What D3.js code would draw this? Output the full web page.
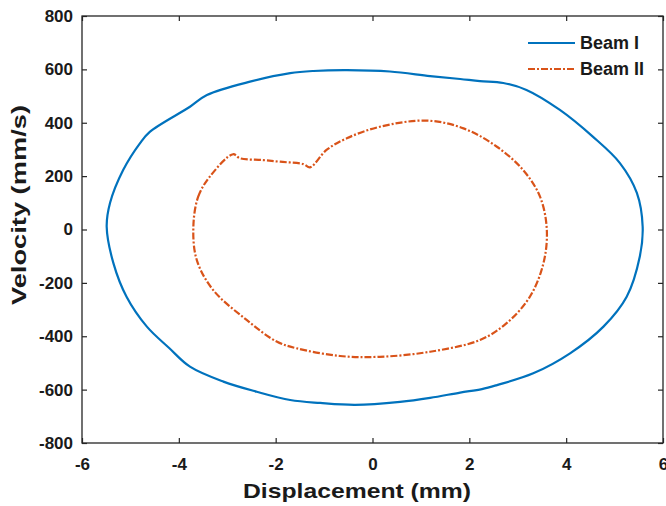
<!DOCTYPE html>
<html>
<head>
<meta charset="utf-8">
<script src="https://cdn.jsdelivr.net/npm/d3@7"></script>
<style>
  body { margin: 0; background: #fff; }
  text { font-family: "Liberation Sans", Arial, sans-serif; font-weight: bold; }
</style>
</head>
<body>
<div id="chart"></div>
<script>
// values
const seriesNames = ['Beam I', 'Beam II'];

const beam1Disp = [-5.49, -5.42, -5.15, -4.80, -4.60, -3.77, -3.42, -2.53, -1.70, -1.22, -0.53, 0.36, 1.19, 1.81, 2.22, 2.70, 3.18, 3.87, 4.55, 5.11, 5.46, 5.58, 5.52, 5.25, 4.77, 4.08, 3.32, 2.57, 2.26, 1.81, 1.19, 0.57, -0.36, -1.08, -1.70, -2.39, -3.08, -3.77, -4.20, -4.66, -5.08, -5.35];
const beam1Vel = [10, 100, 223, 324, 366, 460, 504, 554, 586, 594, 597, 592, 575, 564, 556, 549, 523, 448, 348, 249, 137, 10, -102, -252, -364, -464, -539, -583, -598, -611, -631, -646, -657, -650, -639, -608, -570, -514, -444, -364, -252, -127];

const beam2Disp = [-3.70, -3.60, -3.36, -2.88, -2.74, -2.26, -1.91, -1.43, -1.29, -0.95, -0.53, 0.15, 1.12, 1.88, 2.57, 3.11, 3.46, 3.60, 3.53, 3.25, 2.77, 2.22, 1.19, 0.15, -0.67, -1.57, -1.98, -2.60, -3.29, -3.63];
const beam2Vel = [10, 123, 198, 282, 267, 260, 254, 245, 233, 298, 342, 385, 408, 379, 310, 223, 123, 0, -127, -252, -351, -414, -458, -477, -474, -445, -420, -339, -227, -114];

const xTicks = [-6, -4, -2, 0, 2, 4, 6];
const yTicks = [-800, -600, -400, -200, 0, 200, 400, 600, 800];

const width = 666;
const height = 506;
const margins = { top: 16, right: 3, bottom: 63, left: 82 };
const visWidth = width - margins.left - margins.right;
const visHeight = height - margins.top - margins.bottom;

const colors = ['#0072BD', '#D95319'];
const axisColor = '#262626';
const textColor = '#1a1a1a';
const dash = '7,2,2,2';

const svg = d3.select('#chart').append('svg')
    .attr('width', width)
    .attr('height', height);

const x = d3.scaleLinear().domain([-6, 6]).range([margins.left, margins.left + visWidth]);
const y = d3.scaleLinear().domain([-800, 800]).range([margins.top + visHeight, margins.top]);

const series = [
    beam1Disp.map((d, i) => [d, beam1Vel[i]]),
    beam2Disp.map((d, i) => [d, beam2Vel[i]]),
];

// curves
const line = d3.line()
    .x(d => x(d[0]))
    .y(d => y(d[1]))
    .curve(d3.curveCatmullRomClosed.alpha(0.5));

svg.append('g')
    .attr('fill', 'none')
    .selectAll('path')
    .data(series)
    .join('path')
    .attr('stroke', (d, i) => colors[i])
    .attr('stroke-width', 2.2)
    .attr('stroke-dasharray', (d, i) => (i === 1 ? dash : null))
    .attr('d', line);

// axes, ticks pointing inward on all four sides
function styleAxis(g) {
    g.select('.domain').remove();
    g.selectAll('.tick line').attr('stroke', axisColor).attr('stroke-width', 1.2);
    g.selectAll('.tick text').attr('fill', textColor).attr('font-size', 17);
}

const fmt = d => String(d);

svg.append('g')
    .attr('transform', `translate(0,${margins.top + visHeight})`)
    .call(d3.axisBottom(x).tickValues(xTicks).tickSize(-5).tickPadding(15).tickFormat(fmt))
    .call(styleAxis);

svg.append('g')
    .attr('transform', `translate(0,${margins.top})`)
    .call(d3.axisTop(x).tickValues(xTicks).tickSize(-5).tickFormat(''))
    .call(styleAxis);

svg.append('g')
    .attr('transform', `translate(${margins.left},0)`)
    .call(d3.axisLeft(y).tickValues(yTicks).tickSize(-5).tickPadding(9).tickFormat(fmt))
    .call(styleAxis);

svg.append('g')
    .attr('transform', `translate(${margins.left + visWidth},0)`)
    .call(d3.axisRight(y).tickValues(yTicks).tickSize(-5).tickFormat(''))
    .call(styleAxis);

svg.append('rect')
    .attr('x', margins.left)
    .attr('y', margins.top)
    .attr('width', visWidth)
    .attr('height', visHeight)
    .attr('fill', 'none')
    .attr('stroke', axisColor)
    .attr('stroke-width', 1.3);

// axis titles
svg.append('text')
    .attr('x', 357)
    .attr('y', 498)
    .attr('text-anchor', 'middle')
    .attr('font-size', 21)
    .attr('textLength', 228)
    .attr('lengthAdjust', 'spacingAndGlyphs')
    .attr('fill', textColor)
    .text('Displacement (mm)');

svg.append('text')
    .attr('transform', `translate(26,205) rotate(-90)`)
    .attr('text-anchor', 'middle')
    .attr('font-size', 21)
    .attr('textLength', 200)
    .attr('lengthAdjust', 'spacingAndGlyphs')
    .attr('fill', textColor)
    .text('Velocity (mm/s)');

// legend
const legend = svg.append('g')
    .selectAll('g')
    .data(seriesNames)
    .join('g')
    .attr('transform', (d, i) => `translate(528,${43 + i * 26})`);

legend.append('line')
    .attr('x1', 0)
    .attr('x2', 47)
    .attr('stroke', (d, i) => colors[i])
    .attr('stroke-width', 2.2)
    .attr('stroke-dasharray', (d, i) => (i === 1 ? dash : null));

legend.append('text')
    .attr('x', 52)
    .attr('dy', '0.36em')
    .attr('font-size', 18)
    .attr('fill', textColor)
    .text(d => d);
</script>
</body>
</html>
